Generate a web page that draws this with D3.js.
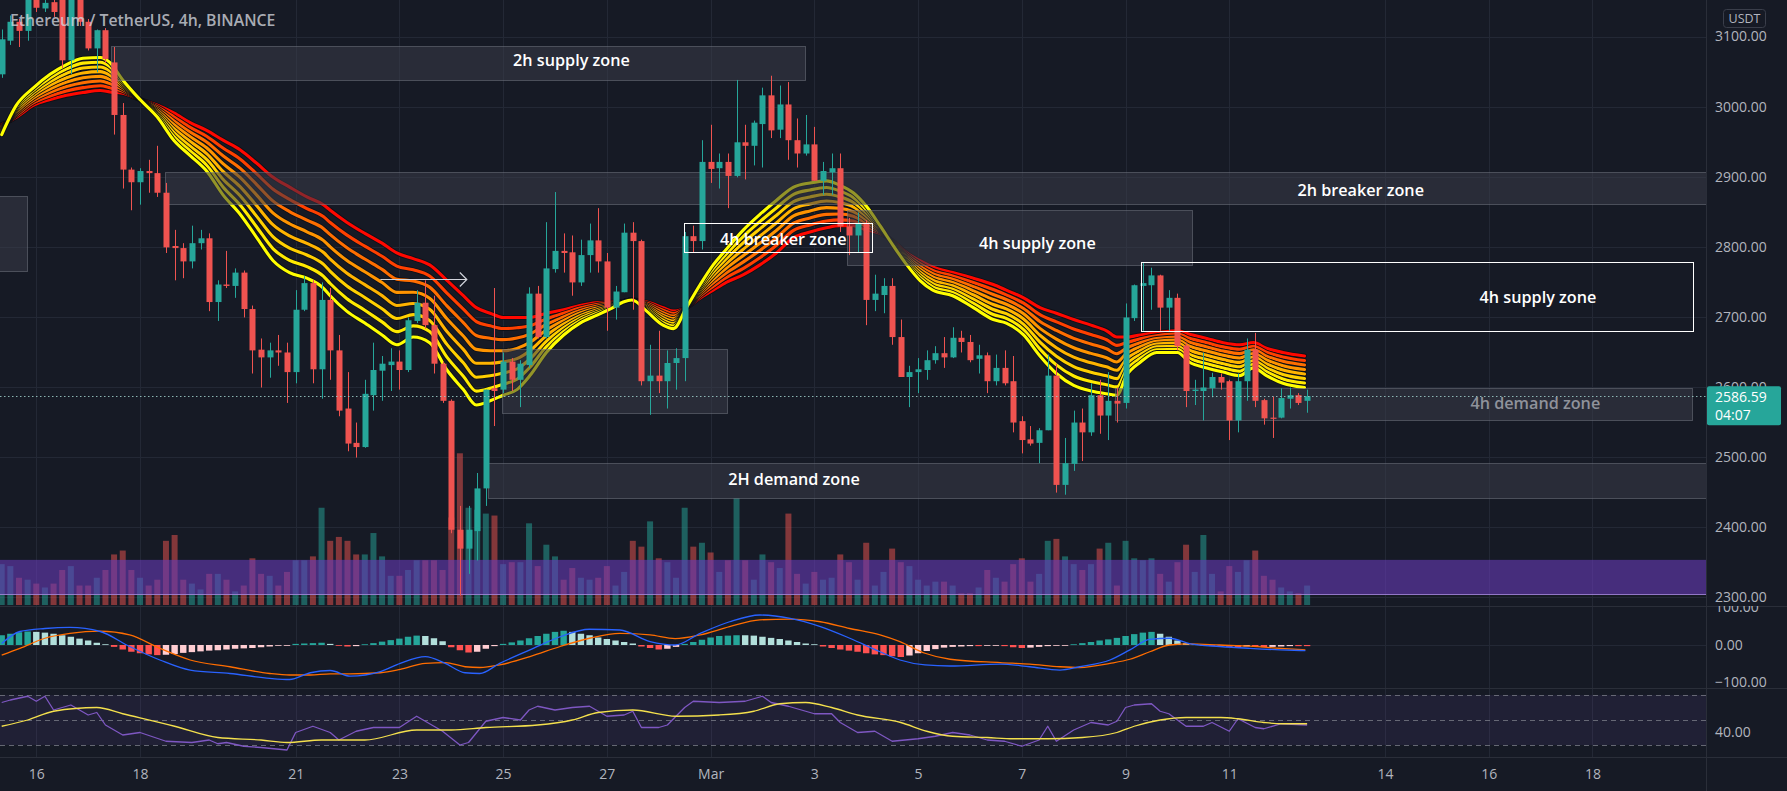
<!DOCTYPE html>
<html>
<head>
<meta charset="utf-8">
<script src="https://cdn.jsdelivr.net/npm/d3@7"></script>
<style>
html,body{margin:0;padding:0;background:#161a25;overflow:hidden;}
svg{display:block;}
</style>
</head>
<body>
<svg id="chart" width="1787" height="791"></svg>
<script>
// ---------------- DATA (ETH/USDT 4h, Binance, from Feb 15 2022 08:00 UTC) ----------------
const opens = [3046,3094,3121,3108,3165,3140,3149,3160,3066,3160, 3121,3083,3109,3063,2988,2910,2892,2908,2905,2877,
 2801,2798,2779,2805,2812,2721,2746,2744,2763,2711, 2653,2642,2652,2649,2621,2710,2748,2625,2724,2652,
 2569,2520,2514,2588,2623,2631,2636,2624,2694,2720, 2688,2633,2580,2396,2369,2394,2455,2598,2596,2636,
 2610,2631,2733,2671,2768,2794,2792,2749,2788,2809, 2779,2713,2735,2820,2808,2608,2616,2608,2634,2641,
 2815,2808,2921,2912,2921,2901,2949,2944,2975,3016, 2967,3003,2952,2933,2946,2894,2906,2912,2829,2816,
 2834,2724,2731,2744,2671,2614,2621,2624,2638,2648, 2642,2670,2664,2640,2645,2608,2627,2608,2551,2525,
 2520,2538,2616,2460,2490,2549,2535,2588,2559,2580, 2577,2698,2744,2745,2759,2713,2727,2659,2594,2594,
 2598,2614,2608,2552,2608,2653,2581,2556,2556,2583, 2588,2580];
const highs = [3110,3130,3125,3175,3180,3160,3165,3175,3175,3170, 3125,3110,3112,3085,3005,2913,2912,2924,2944,2891,
 2824,2805,2830,2824,2819,2752,2794,2769,2766,2716, 2669,2663,2674,2663,2738,2758,2752,2749,2741,2674,
 2621,2549,2610,2663,2644,2655,2652,2699,2738,2752, 2730,2636,2582,2430,2430,2477,2596,2741,2649,2641,
 2638,2742,2744,2835,2878,2819,2816,2810,2833,2855, 2791,2744,2833,2835,2810,2660,2680,2652,2655,2821,
 2830,2952,2974,2933,2933,3038,2974,2980,3027,3044, 3030,3035,2983,2988,2971,2921,2933,2933,2841,2849,
 2838,2760,2755,2755,2696,2630,2641,2652,2658,2671, 2685,2680,2674,2660,2649,2646,2652,2644,2558,2544,
 2541,2646,2633,2527,2566,2569,2605,2610,2621,2599, 2719,2746,2777,2770,2760,2738,2733,2663,2610,2649,
 2620,2619,2610,2619,2669,2677,2583,2586,2598,2599, 2591,2596];
const lows = [3041,3088,3085,3094,3135,3135,3128,3055,3046,3115, 3080,3049,3062,2960,2883,2852,2860,2877,2871,2791,
 2752,2755,2769,2796,2708,2694,2741,2727,2699,2619, 2599,2613,2630,2577,2605,2708,2605,2583,2610,2558,
 2508,2499,2513,2566,2580,2594,2596,2621,2691,2683, 2619,2577,2391,2302,2333,2352,2430,2544,2591,2594,
 2571,2627,2669,2669,2763,2763,2730,2744,2763,2763, 2680,2696,2735,2710,2602,2560,2591,2569,2596,2608,
 2791,2796,2891,2883,2855,2899,2896,2916,2913,2955, 2955,2924,2913,2930,2894,2874,2874,2821,2788,2791,
 2688,2708,2705,2660,2614,2571,2591,2610,2633,2627, 2641,2649,2635,2619,2591,2602,2602,2535,2505,2516,
 2491,2538,2449,2446,2480,2494,2530,2533,2524,2549, 2569,2694,2680,2710,2680,2680,2652,2571,2574,2552,
 2585,2596,2524,2535,2580,2571,2546,2527,2555,2569, 2574,2563];
const closes = [3096,3121,3108,3160,3141,3148,3135,3066,3160,3121, 3083,3109,3068,2988,2910,2892,2908,2905,2877,2799,
 2798,2779,2805,2812,2721,2746,2744,2763,2711,2652, 2642,2652,2649,2621,2710,2748,2625,2724,2652,2566,
 2519,2514,2590,2624,2633,2636,2624,2695,2720,2688, 2633,2580,2396,2369,2396,2455,2596,2594,2636,2610,
 2633,2733,2671,2769,2794,2791,2749,2788,2809,2779, 2713,2736,2820,2808,2608,2616,2608,2634,2641,2815,
 2808,2921,2911,2921,2901,2949,2944,2977,3016,2966, 3003,2952,2933,2946,2894,2908,2912,2829,2816,2834,
 2724,2733,2744,2671,2614,2621,2625,2638,2648,2642, 2670,2664,2638,2645,2608,2627,2605,2549,2524,2519,
 2538,2616,2460,2491,2549,2535,2588,2559,2580,2576, 2699,2745,2748,2759,2713,2727,2658,2594,2596,2599,
 2614,2606,2552,2608,2653,2580,2555,2555,2584,2588, 2577,2586.59];
// volume, thousand ETH
const volumes = [52.5,50,35,32.5,27.5,22.5,27.5,45,50,25, 25,35,45,65,70,45,35,25,32.5,82.5,
 90,32.5,27.5,20,40,40,32.5,17.5,25,60, 40,37.5,25,42.5,57.5,57.5,62.5,125,82.5,87.5,
 82.5,65,65,92.5,62.5,37.5,37.5,45,57.5,57.5, 57.5,45,112.5,195,125,122.5,117.5,115,52.5,55,
 55,105,50,77.5,62.5,32.5,47.5,35,32.5,35, 50,25,42.5,82.5,75,107.5,60,55,35,125,
 75,80,67.5,42.5,57.5,137.5,57.5,32.5,65,55, 47.5,117.5,40,27.5,42.5,32.5,35,65,55,32.5,
 80,25,42.5,72.5,55,50,32.5,25,30,30, 25,15,15,22.5,45,35,30,52.5,60,30,
 40,82.5,85,62.5,52.5,45,52.5,72.5,80,25, 82.5,60,57.5,60,40,30,55,77.5,42.5,90,
 40,17.5,50,42.5,57.5,70,37.5,32.5,22.5,17.5, 15,25];
const volBand = [14, 58];

// EMA ribbon: fastest (yellow) and slowest (red) member, read at these bar positions
const ribbonK = [0,1.7,3.7,5.6,7.5,9.4,11.4,12.5,14,16,18,19.9,21.8,23.7,25.6,27.6,29.5,31.4,33.3,35.3,
 37.2,38,39.9,42,44,45.7,47.6,49.5,51.5,53.4,54.9,56.5,58,59.6,61.1,63,65,66.9,68.8,70.7,
 71.9,72.9,74.6,76.5,77.7,79.2,80.8,82.3,83.8,85.8,87.7,89.6,91.6,93.5,95.4,96.9,98.5,100,101.6,103.1,
 104.7,106.2,107.7,110,112.4,114.7,116.2,118.2,120.1,122,124,126,127.8,129,130.1,131.7,133.6,136,137.4,139.4,
 141.3,143.2,144.8,146.3,148.2,150.7];
const ribbonFast = [2960,3002,3027,3046,3060,3069,3070,3063,3038,3010,2985,2952,2930,2908,2874,2846,2813,2780,2763,2755,
 2741,2730,2708,2691,2674,2660,2671,2663,2624,2596,2574,2580,2588,2596,2616,2649,2674,2691,2702,2713,
 2721,2724,2708,2688,2683,2713,2746,2774,2796,2824,2846,2866,2885,2891,2894,2888,2877,2858,2830,2802,
 2774,2752,2738,2730,2713,2696,2691,2674,2644,2619,2602,2594,2590,2588,2616,2635,2649,2649,2635,2627,
 2621,2616,2627,2616,2605,2599];
const ribbonSlow = [2974,2985,3002,3010,3016,3020,3023,3021,3019,3010,3002,2991,2977,2966,2952,2938,2919,2899,2885,2871,
 2860,2852,2835,2819,2805,2791,2783,2774,2752,2730,2713,2705,2699,2699,2699,2705,2710,2716,2720,2721,
 2722,2724,2721,2713,2708,2713,2727,2738,2749,2760,2774,2791,2813,2821,2827,2830,2830,2824,2819,2808,
 2791,2780,2771,2763,2755,2746,2738,2727,2713,2705,2696,2688,2680,2671,2671,2674,2677,2680,2675,2669,
 2663,2660,2663,2655,2649,2644];

// MACD
const macdHist = [26,30,34,36,35,33,30,26,22,17, 12,6,2,-5,-12,-18,-22,-25,-27,-26,
 -24,-21,-19,-17,-15,-14,-12,-10,-9,-8, -6,-4,-2,-1,3,4,5,6,3,-2,
 -4,-3,2,5,9,13,17,22,25,24, 18,10,-6,-14,-20,-18,-10,-3,3,7,
 12,18,24,30,35,38,35,30,26,20, 16,12,8,4,-4,-8,-12,-10,-5,3,
 8,14,20,24,25,26,26,25,22,19, 16,12,8,4,2,-4,-8,-12,-15,-18,
 -22,-25,-27,-30,-32,-28,-22,-16,-11,-7, -5,-4,-3,-3,-2,-1,-3,-6,-8,-7,
 -5,-3,-2,-1,2,5,8,12,15,19, 24,29,33,35,30,22,12,5,2,1,
 -1,-2,-5,-6,-4,-5,-6,-5,-4,-3, -3,-3];
const macdK = [0,2.1,5,7.9,11.4,14.8,18.3,21.8,26.4,31,33.3,35.7,38,40.3,43.8,46.1,49,51.3,53.6,55.3,
 57.6,61.1,64.6,68,71.5,75,77.9,80.8,84.2,87.7,91.2,94.7,98.1,101.6,103.9,106.8,109.7,115.5,118.9,122.4,
 124.7,128.2,130.5,132.8,135.1,137.5,140.9,144.4,147.9,150.8];
const macdLine = [4,36,44,47,36,-4,-40,-67,-76,-89,-92,-74,-68,-83,-71,-49,-31,-49,-74,-76,
 -49,-13,22,42,40,9,0,31,62,80,71,49,18,-18,-40,-53,-56,-51,-58,-67,
 -58,-40,-13,15,18,3,-4,-9,-13,-15];
const signalLine = [-27,-9,18,31,37,27,-9,-40,-58,-76,-80,-80,-77,-77,-74,-65,-49,-47,-58,-60,
 -53,-31,-4,18,31,27,17,27,49,67,69,62,44,27,9,-22,-38,-47,-51,-58,
 -60,-49,-38,-18,0,3,0,-3,-9,-13];

// RSI
const rsiK = [0,1,3,4,5,6,8,10,11,12,14,16,19,22,24,25,26,28,30,33,34,36,38,39,41,43,46,48,49,51,
 53,54,56,58,60,61,62,64,66,68,70,72,73,74,76,77,79,80,83,86,88,89,91,93,94,96,97,99,101,103,
 106,108,110,112,114,116,118,120,121,122,124,126,128,129,130,131,133,134,135,137,139,140,142,143,145,146,148,151];
const rsiVal = [64,66,69,65,69,58,62,54,56,46,38,40,33,32,34,31,32,29,28,26,40,45,40,34,41,44,44,53,49,41,
 30,32,49,52,50,58,61,58,60,61,53,54,57,44,44,46,60,65,64,65,69,64,61,57,55,55,48,40,41,33,
 35,37,40,38,34,33,29,34,45,33,42,48,46,49,60,62,63,57,55,45,45,48,41,51,44,43,47,46];
const rsiMaK = [0,3,6,11,14,20,25,30,33,37,42,48,52,56,62,66,69,73,78,83,87,90,93,96,99,104,107,110,114,117,
 121,125,129,131,134,137,141,143,146,148,151];
const rsiMaVal = [45,50,57,60,55,45,36,34,32,34,34,42,42,44,46,50,56,58,53,54,57,63,64,60,54,48,41,37,36,35,
 35,36,40,45,50,52,52,51,48,47,47];

// drawings (zones): bar positions and prices
const zoneLabel  = ["", "2h supply zone", "2h breaker zone", "4h supply zone", "4h breaker zone", "", "2H demand zone", "4h supply zone", "4h demand zone"];
const zoneStartK = [-6, 12.6, 18.9, 97.8, 78.9, 57.9, 56.3, 131.8, 128.8];
const zoneEndK   = [2.9, 92.9, 220, 137.7, 100.7, 83.9, 220, 195.6, 195.6];
const zoneTop    = [2872, 3087, 2907, 2852, 2834, 2654, 2491, 2778, 2598];
const zoneBottom = [2765, 3039, 2861, 2774, 2792, 2563, 2441, 2680, 2553];
const zoneLabelK = [null, 65.9, 157.2, 119.8, 90.4, null, 91.65, 177.7, 177.4];
const zoneLabelP = [null, 3066, 2881, 2805, 2811, null, 2468, 2728, 2577];
const arrowK = [43.8, 53.8], arrowP = 2754;

const priceTicks = [2300,2400,2500,2600,2700,2800,2900,3000,3100];
const macdTicks = [100, 0, -100];
const rsiTicks = [40];
const rsiLevels = [70, 50, 30];
const tickDays = ["2022-02-16","2022-02-18","2022-02-21","2022-02-23","2022-02-25","2022-02-27","2022-03-01",
 "2022-03-03","2022-03-05","2022-03-07","2022-03-09","2022-03-11","2022-03-14","2022-03-16","2022-03-18"];
const titleText = "Ethereum / TetherUS, 4h, BINANCE";
const countdown = "04:07";

// ---------------- LAYOUT ----------------
const W = 1787, H = 791, PW = 1706;
const FONT = '"Open Sans","Noto Sans","DejaVu Sans",sans-serif';
const T0 = Date.UTC(2022,1,15,8), H4 = 4*3600*1000;
const kDate = k => new Date(T0 + k*H4);
const n = closes.length;
const times = d3.range(n).map(kDate);
const UP = "#26a69a", DOWN = "#ef5350";

const x  = d3.scaleUtc().domain([kDate(0), kDate(184)]).range([1.7, 1592.4]);
const y  = d3.scaleLinear().domain([2300, 3100]).range([597, 36.5]);
const yV = d3.scaleLinear().domain([0, 200]).range([605, 449.4]);
const yM = d3.scaleLinear().domain([-100, 100]).range([682.5, 607.5]);
const yR = d3.scaleLinear().domain([30, 70]).range([745, 695]);

const svg = d3.select("#chart");
svg.append("rect").attr("width", W).attr("height", H).attr("fill", "#161a25");
const defs = svg.append("defs");
function addClip(id, x0, y0, w, h) {
  defs.append("clipPath").attr("id", id).append("rect").attr("x", x0).attr("y", y0).attr("width", w).attr("height", h);
}
addClip("clipP", 0, 0, PW, 606);
addClip("clipM", 0, 606, PW, 82);
addClip("clipR", 0, 688, PW, 69);
addClip("clipPA", PW, 0, W - PW, 606);
addClip("clipMA", PW, 606, W - PW, 82);
addClip("clipRA", PW, 688, W - PW, 69);

// grid
const tickDates = tickDays.map(d3.utcParse("%Y-%m-%d"));
const gGrid = svg.append("g").attr("stroke", "#232835").attr("stroke-width", 1);
gGrid.selectAll("line.h").data(priceTicks).join("line").attr("class", "h")
  .attr("x1", 0).attr("x2", PW).attr("y1", d => Math.round(y(d)) + 0.5).attr("y2", d => Math.round(y(d)) + 0.5);
gGrid.selectAll("line.v").data(tickDates).join("line").attr("class", "v")
  .attr("x1", d => Math.round(x(d)) + 0.5).attr("x2", d => Math.round(x(d)) + 0.5).attr("y1", 0).attr("y2", 757);
gGrid.selectAll("line.m").data([0]).join("line").attr("class", "m")
  .attr("x1", 0).attr("x2", PW).attr("y1", d => Math.round(yM(d)) + 0.5).attr("y2", d => Math.round(yM(d)) + 0.5);

// ---------------- PRICE PANE ----------------
const gP = svg.append("g").attr("clip-path", "url(#clipP)");

// volume
gP.append("g").selectAll("rect").data(volumes).join("rect")
  .attr("x", (d, i) => x(times[i]) - 3).attr("width", 6)
  .attr("y", d => yV(d)).attr("height", d => yV(0) - yV(d))
  .attr("fill", (d, i) => closes[i] >= opens[i] ? "rgba(38,166,154,0.5)" : "rgba(239,83,80,0.5)");
gP.append("rect").attr("x", 0).attr("width", PW)
  .attr("y", yV(volBand[1])).attr("height", yV(volBand[0]) - yV(volBand[1]))
  .attr("fill", "rgba(103,58,183,0.6)");
gP.append("line").attr("x1", 0).attr("x2", PW).attr("y1", Math.round(yV(volBand[0])) + 0.5).attr("y2", Math.round(yV(volBand[0])) + 0.5)
  .attr("stroke", "rgba(160,130,215,0.9)").attr("stroke-width", 1);

// EMA ribbon
const ribbonColors = ["#ffff00","#ffea00","#ffd000","#ffb400","#ff9400","#ff6e00","#ff4000","#ff0800"];
const rLine = d3.line().x(d => x(kDate(d[0]))).y(d => y(d[1])).curve(d3.curveMonotoneX);
const gRib = gP.append("g").attr("fill", "none").attr("stroke-linejoin", "round").attr("stroke-linecap", "round");
for (let j = ribbonColors.length - 1; j >= 0; j--) {
  const t = j / (ribbonColors.length - 1);
  const pts = ribbonK.map((k, i) => [k, ribbonFast[i] * (1 - t) + ribbonSlow[i] * t]);
  gRib.append("path").attr("d", rLine(pts)).attr("stroke", "#0d1017").attr("stroke-width", 4.8);
  gRib.append("path").attr("d", rLine(pts)).attr("stroke", ribbonColors[j]).attr("stroke-width", 3.1);
}

// zone fills (over the ribbon, under the candles)
const outlined = new Set([4, 7]);
const dimLabel = new Set([8]);
const zoneBox = i => {
  const x0 = x(kDate(zoneStartK[i])), x1 = x(kDate(zoneEndK[i]));
  const y0 = y(zoneTop[i]), y1 = y(zoneBottom[i]);
  return {x: Math.round(x0) + 0.5, y: Math.round(y0) + 0.5, w: Math.round(x1 - x0), h: Math.round(y1 - y0)};
};
const gZF = gP.append("g");
zoneLabel.forEach((lab, i) => {
  if (outlined.has(i)) return;
  const b = zoneBox(i);
  gZF.append("rect").attr("x", b.x).attr("y", b.y).attr("width", b.w).attr("height", b.h)
    .attr("fill", "rgba(58,61,72,0.55)").attr("stroke", "rgba(120,123,134,0.5)").attr("stroke-width", 1);
});

// candles
const gC = gP.append("g");
const idx = d3.range(n);
gC.selectAll("line").data(idx).join("line")
  .attr("x1", i => Math.round(x(times[i])) + 0.5).attr("x2", i => Math.round(x(times[i])) + 0.5)
  .attr("y1", i => y(highs[i])).attr("y2", i => y(lows[i]))
  .attr("stroke", i => closes[i] >= opens[i] ? UP : DOWN).attr("stroke-width", 1);
gC.selectAll("rect").data(idx).join("rect")
  .attr("x", i => Math.round(x(times[i])) - 2.5).attr("width", 6)
  .attr("y", i => y(Math.max(opens[i], closes[i])))
  .attr("height", i => Math.max(1.2, Math.abs(y(opens[i]) - y(closes[i]))))
  .attr("fill", i => closes[i] >= opens[i] ? UP : DOWN);

// zone outlines and labels
const gZ = gP.append("g");
zoneLabel.forEach((lab, i) => {
  if (!outlined.has(i)) return;
  const b = zoneBox(i);
  gZ.append("rect").attr("x", b.x).attr("y", b.y).attr("width", b.w).attr("height", b.h)
    .attr("fill", "none").attr("stroke", "#ffffff").attr("stroke-width", 1);
});
zoneLabel.forEach((lab, i) => {
  if (!lab) return;
  gZ.append("text").text(lab)
    .attr("x", x(kDate(zoneLabelK[i]))).attr("y", y(zoneLabelP[i]))
    .attr("text-anchor", "middle").attr("dominant-baseline", "central")
    .attr("font-family", FONT).attr("font-size", 16.2).attr("font-weight", 600)
    .attr("fill", dimLabel.has(i) ? "#8f929b" : "#ffffff");
});
// arrow
const ax0 = x(kDate(arrowK[0])), ax1 = x(kDate(arrowK[1])), ay = Math.round(y(arrowP)) + 0.5;
gZ.append("path").attr("d", `M${ax0},${ay}H${ax1}M${ax1 - 7},${ay - 7}L${ax1},${ay}L${ax1 - 7},${ay + 7}`)
  .attr("fill", "none").attr("stroke", "#d1d4dc").attr("stroke-width", 1.2);

// last price line
const lastClose = closes[n - 1];
gP.append("line").attr("x1", 0).attr("x2", PW)
  .attr("y1", Math.round(y(lastClose)) + 0.5).attr("y2", Math.round(y(lastClose)) + 0.5)
  .attr("stroke", "#9fcfca").attr("stroke-width", 1).attr("stroke-dasharray", "1.5,2.5").attr("opacity", 0.85);

// title
gP.append("text").text(titleText).attr("x", 10).attr("y", 26)
  .attr("font-family", FONT).attr("font-size", 15.8).attr("font-weight", 600)
  .attr("fill", "rgba(209,212,220,0.8)");

// ---------------- MACD PANE ----------------
const gM = svg.append("g").attr("clip-path", "url(#clipM)");
const histColor = (h, i) => {
  const prev = i > 0 ? macdHist[i - 1] : 0;
  if (h >= 0) return prev < h ? "#26a69a" : "#b2dfdb";
  return prev < h ? "#ffcdd2" : "#ff5252";
};
gM.append("g").selectAll("rect").data(macdHist).join("rect")
  .attr("x", (d, i) => x(times[i]) - 3.2).attr("width", 6.4)
  .attr("y", d => yM(Math.max(0, d))).attr("height", d => Math.max(0.8, Math.abs(yM(d) - yM(0))))
  .attr("fill", histColor);
const mLine = d3.line().x(d => x(kDate(d[0]))).y(d => yM(d[1])).curve(d3.curveMonotoneX);
gM.append("path").attr("d", mLine(macdK.map((k, i) => [k, signalLine[i]])))
  .attr("fill", "none").attr("stroke", "#ff6d00").attr("stroke-width", 1.3);
gM.append("path").attr("d", mLine(macdK.map((k, i) => [k, macdLine[i]])))
  .attr("fill", "none").attr("stroke", "#2962ff").attr("stroke-width", 1.3);

// ---------------- RSI PANE ----------------
const gR = svg.append("g").attr("clip-path", "url(#clipR)");
gR.append("rect").attr("x", 0).attr("width", PW).attr("y", yR(70)).attr("height", yR(30) - yR(70))
  .attr("fill", "rgba(126,87,194,0.1)");
gR.selectAll("line.lv").data(rsiLevels).join("line").attr("class", "lv")
  .attr("x1", 0).attr("x2", PW).attr("y1", d => Math.round(yR(d)) + 0.5).attr("y2", d => Math.round(yR(d)) + 0.5)
  .attr("stroke", "#787b86").attr("stroke-dasharray", "5,4").attr("stroke-width", 1).attr("opacity", 0.8);
const rsiL = d3.line().x(d => x(kDate(d[0]))).y(d => yR(d[1]));
gR.append("path").attr("d", rsiL(rsiK.map((k, i) => [k, rsiVal[i]])))
  .attr("fill", "none").attr("stroke", "#7e57c2").attr("stroke-width", 1.3).attr("stroke-linejoin", "round");
gR.append("path").attr("d", rsiL.curve(d3.curveMonotoneX)(rsiMaK.map((k, i) => [k, rsiMaVal[i]])))
  .attr("fill", "none").attr("stroke", "#f4e04d").attr("stroke-width", 1.3);

// ---------------- SEPARATORS ----------------
const sep = svg.append("g").attr("stroke", "#2a2e39").attr("stroke-width", 1);
[606, 688, 757].forEach(v => sep.append("line").attr("x1", 0).attr("x2", W).attr("y1", v + 0.5).attr("y2", v + 0.5));
sep.append("line").attr("x1", PW + 0.5).attr("x2", PW + 0.5).attr("y1", 0).attr("y2", H);

// ---------------- AXES ----------------
function styleAxis(g) {
  g.select(".domain").remove();
  g.selectAll(".tick line").remove();
  g.selectAll("text").attr("fill", "#b2b5be").attr("font-size", 14).attr("font-family", FONT);
}
svg.append("g").attr("clip-path", "url(#clipPA)").append("g").attr("transform", `translate(${PW},0)`)
  .call(d3.axisRight(y).tickValues(priceTicks).tickFormat(d3.format(".2f")).tickSize(0).tickPadding(9))
  .call(styleAxis);
svg.append("g").attr("clip-path", "url(#clipMA)").append("g").attr("transform", `translate(${PW},0)`)
  .call(d3.axisRight(yM).tickValues(macdTicks).tickFormat(d3.format(".2f")).tickSize(0).tickPadding(9))
  .call(styleAxis);
svg.append("g").attr("clip-path", "url(#clipRA)").append("g").attr("transform", `translate(${PW},0)`)
  .call(d3.axisRight(yR).tickValues(rsiTicks).tickFormat(d3.format(".2f")).tickSize(0).tickPadding(9))
  .call(styleAxis);
const dayFmt = d => d.getUTCDate() === 1 ? d3.utcFormat("%b")(d) : d3.utcFormat("%-d")(d);
svg.append("g").attr("transform", "translate(0,757)")
  .call(d3.axisBottom(x).tickValues(tickDates).tickFormat(dayFmt).tickSize(0).tickPadding(12))
  .call(styleAxis);

// USDT badge
svg.append("rect").attr("x", 1723.5).attr("y", 9.5).attr("width", 42).attr("height", 18).attr("rx", 3)
  .attr("fill", "#161a25").attr("stroke", "#3a3e4a");
svg.append("text").text("USDT").attr("x", 1744.5).attr("y", 18.5).attr("text-anchor", "middle")
  .attr("dominant-baseline", "central").attr("font-family", FONT).attr("font-size", 12.5).attr("fill", "#b2b5be");

// last price label
const ly = y(lastClose);
svg.append("rect").attr("x", PW + 1).attr("y", ly - 10).attr("width", 74).attr("height", 39).attr("rx", 2)
  .attr("fill", UP);
svg.append("text").text(d3.format(".2f")(lastClose)).attr("x", PW + 9).attr("y", ly + 5.5)
  .attr("font-family", FONT).attr("font-size", 14).attr("fill", "#ffffff");
svg.append("text").text(countdown).attr("x", PW + 9).attr("y", ly + 23.5)
  .attr("font-family", FONT).attr("font-size", 14).attr("fill", "#ffffff");
</script>
</body>
</html>
